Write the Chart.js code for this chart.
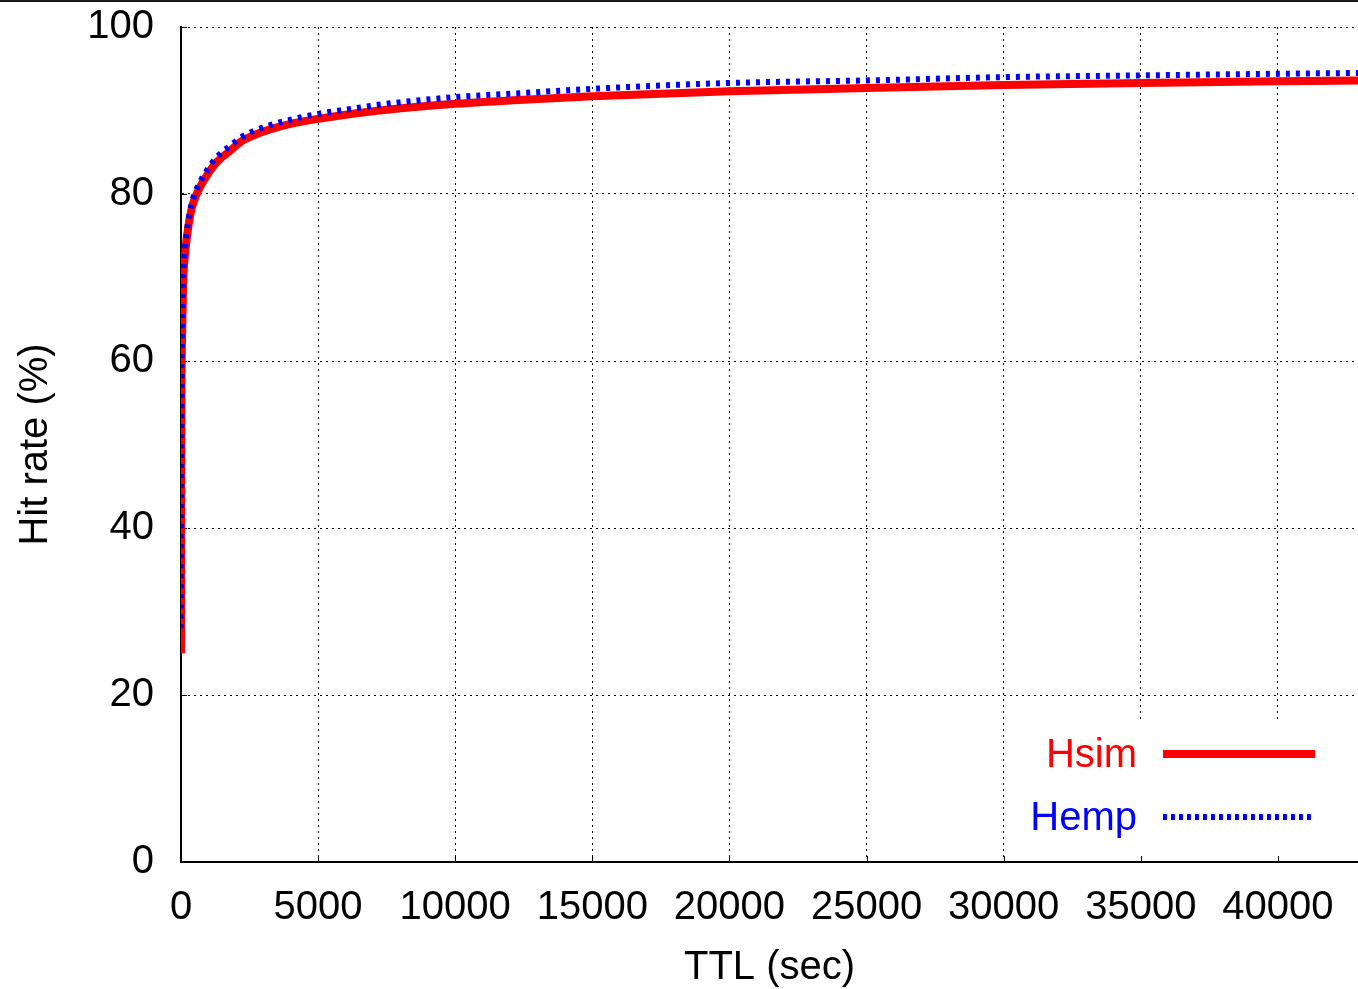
<!DOCTYPE html>
<html>
<head>
<meta charset="utf-8">
<script src="https://cdn.jsdelivr.net/npm/chart.js@4/dist/chart.umd.min.js"></script>
<style>
  html, body { margin: 0; padding: 0; background: #fff; }
  canvas { display: block; }
</style>
</head>
<body>
<canvas id="myChart" width="1358" height="989"></canvas>
<script>
// TTL values (sec)
const ttl = [0, 10, 20, 40, 70, 100, 150, 250, 400, 600, 900, 1300, 1800, 2200, 2700, 3300, 4000, 5000, 6000, 7500, 10000, 12500, 15000, 20000, 25000, 30000, 35000, 40000, 43000];
// hit rate (%)
const hsim = [25, 45, 57, 63, 68, 70.9, 72.9, 75.7, 78.4, 80.2, 82.0, 83.8, 85.2, 86.3, 87.1, 87.8, 88.4, 89.0, 89.5, 90.1, 90.8, 91.3, 91.7, 92.3, 92.7, 93.05, 93.3, 93.5, 93.6];
const hemp = [28, 46, 58, 64, 69, 71.6, 73.6, 76.4, 79.0, 80.8, 82.6, 84.4, 85.8, 86.8, 87.6, 88.3, 88.9, 89.6, 90.1, 90.8, 91.6, 92.1, 92.6, 93.3, 93.6, 94.0, 94.2, 94.4, 94.5];
const xTicks = [0, 5000, 10000, 15000, 20000, 25000, 30000, 35000, 40000];
const yTicks = [0, 20, 40, 60, 80, 100];
const seriesNames = ["Hsim", "Hemp"];

const FONT = "'Liberation Sans', Arial, Helvetica, sans-serif";

function pts(xs, ys) {
  return xs.map((x, i) => ({ x: x, y: ys[i] }));
}

// hide the grid line that sits on the axis itself
function gridColor(c) {
  return (c.tick && c.tick.value === 0) ? "rgba(0,0,0,0)" : "#000";
}

// legend box + inner tick marks + top line
const extras = {
  id: "extras",
  beforeDatasetsDraw(chart) {
    const ctx = chart.ctx;
    const xs = chart.scales.x, ys = chart.scales.y;
    const area = chart.chartArea;
    ctx.save();
    // legend background hides the grid
    ctx.fillStyle = "#fff";
    ctx.fillRect(1010, 723, area.right - 1010, area.bottom - 723 - 2);
    // small inward ticks
    ctx.strokeStyle = "#000";
    ctx.lineWidth = 1;
    ctx.beginPath();
    xTicks.forEach(v => {
      const px = Math.round(xs.getPixelForValue(v)) + 0.5;
      ctx.moveTo(px, area.bottom); ctx.lineTo(px, area.bottom - 6);
    });
    yTicks.forEach(v => {
      const py = Math.round(ys.getPixelForValue(v)) + 0.5;
      ctx.moveTo(area.left, py); ctx.lineTo(area.left + 6, py);
    });
    ctx.stroke();
    ctx.restore();
  },
  afterDraw(chart) {
    const ctx = chart.ctx;
    ctx.save();
    ctx.fillStyle = "#1a1a1a";
    ctx.fillRect(0, 0, chart.width, 2);
    // legend entries
    ctx.font = "40px " + FONT;
    ctx.textAlign = "right";
    ctx.textBaseline = "middle";
    const ds = chart.data.datasets;
    const rows = [754, 817];
    ds.forEach((d, i) => {
      ctx.fillStyle = d.borderColor;
      ctx.fillText(seriesNames[i], 1137, rows[i] + 2);
      ctx.strokeStyle = d.borderColor;
      ctx.lineWidth = d.borderWidth;
      ctx.setLineDash(i === 0 ? [] : [4, 4]);
      ctx.beginPath();
      ctx.moveTo(1163, rows[i]);
      ctx.lineTo(1315, rows[i]);
      ctx.stroke();
    });
    ctx.restore();
  }
};

const ctx = document.getElementById("myChart");
new Chart(ctx, {
  type: "line",
  data: {
    datasets: [
      {
        label: seriesNames[0],
        data: pts(ttl, hsim),
        borderColor: "#ff0000",
        borderWidth: 8,
        pointRadius: 0,
        cubicInterpolationMode: "monotone",
        fill: false,
        order: 2
      },
      {
        label: seriesNames[1],
        data: pts(ttl, hemp),
        borderColor: "#0000ff",
        borderWidth: 6,
        borderDash: [4, 6],
        pointRadius: 0,
        cubicInterpolationMode: "monotone",
        fill: false,
        order: 1
      }
    ]
  },
  options: {
    responsive: false,
    animation: false,
    layout: { padding: { top: 27, right: 0, left: 0, bottom: 0 } },
    plugins: { legend: { display: false }, tooltip: { enabled: false } },
    scales: {
      x: {
        type: "linear",
        min: 0,
        max: 42920,
        afterBuildTicks: s => { s.ticks = xTicks.map(v => ({ value: v })); },
        afterFit: s => { s.height = 127; s.paddingLeft = 0; s.paddingRight = 0; },
        grid: { color: gridColor, lineWidth: 1, drawTicks: false },
        border: { display: true, color: "#000", width: 2, dash: [2, 4] },
        ticks: {
          color: "#000",
          font: { family: FONT, size: 40 },
          padding: 22,
          maxRotation: 0,
          autoSkip: false,
          callback: v => String(v)
        },
        title: {
          display: true,
          text: "TTL (sec)",
          color: "#000",
          font: { family: FONT, size: 40, lineHeight: 1.0 },
          padding: { top: 0, bottom: 1 }
        }
      },
      y: {
        min: 0,
        max: 100,
        afterBuildTicks: s => { s.ticks = yTicks.map(v => ({ value: v })); },
        afterFit: s => { s.width = 181; s.paddingTop = 0; s.paddingBottom = 0; },
        grid: { color: gridColor, lineWidth: 1, drawTicks: false },
        border: { display: true, color: "#000", width: 2, dash: [2, 4] },
        ticks: {
          color: "#000",
          font: { family: FONT, size: 40 },
          padding: 27,
          callback: v => String(v)
        },
        title: {
          display: true,
          text: "Hit rate (%)",
          color: "#000",
          font: { family: FONT, size: 40 },
          padding: { top: 12, bottom: 0 }
        }
      }
    }
  },
  plugins: [extras]
});
</script>
</body>
</html>
